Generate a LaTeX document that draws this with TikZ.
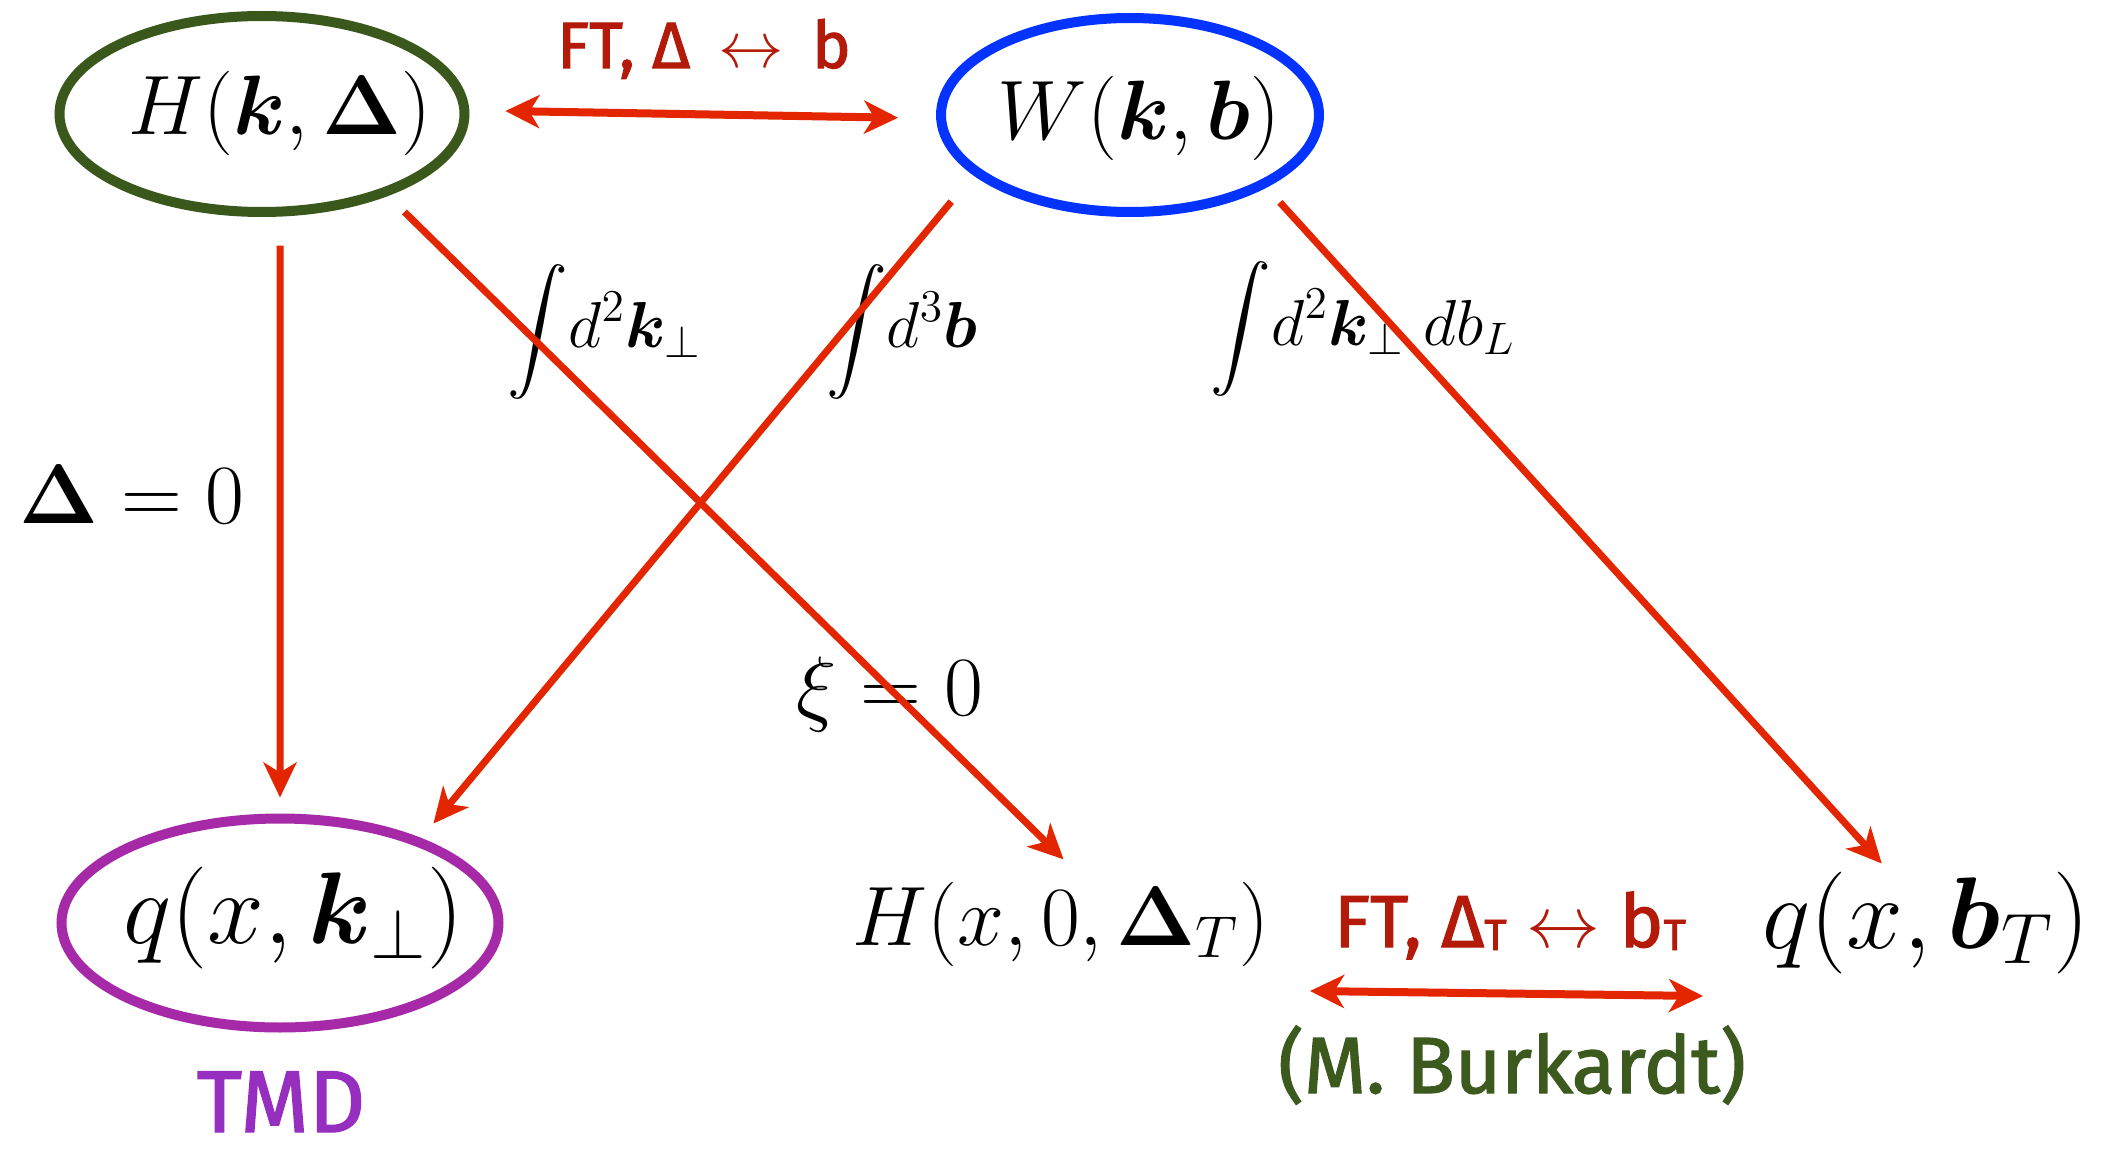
\RequirePackage{fix-cm}
\documentclass[tikz,border=0pt]{standalone}
\usepackage{amsmath,bm}
\usepackage[no-math]{fontspec}
\newfontfamily\handfont[FakeBold=1.6]{Fira Sans}
\usetikzlibrary{shapes.geometric, arrows.meta, positioning, calc}
\definecolor{GPDGreen}{RGB}{58, 88, 28}
\definecolor{GPDBlue}{RGB}{4, 51, 255}
\definecolor{GPDPurple}{RGB}{166, 42, 168}
\definecolor{GPDViolet}{RGB}{150, 46, 192}
\definecolor{GPDRed}{RGB}{227, 38, 0}
\definecolor{GPDDarkRed}{RGB}{180, 26, 10}
\definecolor{GPDOlive}{RGB}{60, 90, 30}
% text inside an oval, shifted by (#1,#2)
\newcommand\ovaltext[3]{\makebox[0pt]{\kern#1\raisebox{#2}[0pt][0pt]{$#3$}}}
\newcommand\lowT{{\fontsize{12.4}{14}\selectfont\raisebox{-0.3mm}{T}}}

\begin{document}
\begin{tikzpicture}[x=0.1mm,y=-0.1mm,
  oval/.style={ellipse, draw, line width=1mm, inner sep=0pt, text=black},
  maparrow/.style={GPDRed, line width=0.7mm, -{Stealth[length=3.5mm, width=3.3mm, inset=1mm]}},
  ftarrow/.style={GPDRed, line width=0.8mm,
    {Stealth[length=3.4mm, width=3.3mm, inset=1mm]}-{Stealth[length=3.4mm, width=3.3mm, inset=1mm]}},
  formula/.style={inner sep=0pt, anchor=base},
  measure/.style={inner sep=0pt, anchor=base, font=\fontsize{18.5}{22}\selectfont},
  hand/.style={inner sep=0pt, anchor=base},
]
  \path[use as bounding box] (0,0) rectangle (2122,1151);
  \fill[white] (0,0) rectangle (2122,1151);

  % the three ovals
  \node[oval, draw=GPDGreen, minimum width=40.5mm, minimum height=19.6mm,
        font=\fontsize{24}{28}\selectfont] (H) at (262,114)
        {\ovaltext{3.6mm}{-2.1mm}{H(\bm{k},\bm{\Delta})}};
  \node[oval, draw=GPDBlue, minimum width=37.8mm, minimum height=19.4mm,
        font=\fontsize{24}{28}\selectfont] (W) at (1130,115)
        {\ovaltext{1.8mm}{-2.5mm}{W(\bm{k},\bm{b})}};
  \node[oval, draw=GPDPurple, minimum width=43.7mm, minimum height=20.9mm,
        font=\fontsize{29}{33}\selectfont] (q) at (280,923)
        {\ovaltext{2.7mm}{-2.0mm}{q(x,\bm{k}_\perp)}};

  % plain formulas
  \node[formula, font=\fontsize{24}{28}\selectfont] (Hx0) at (1061,945) {$H(x,0,\bm{\Delta}_T)$};
  \node[formula, font=\fontsize{29}{33}\selectfont] (qb) at (1926,948) {$q(x,\bm{b}_T)$};
  \node[formula, font=\fontsize{24}{28}\selectfont] (D0) at (132,523) {$\bm{\Delta}=0$};
  \node[formula, font=\fontsize{24}{28}\selectfont] (xi0) at (890,715) {$\xi=0$};
  \node[measure] (intk) at (605,348) {$\displaystyle\int\! d^2\bm{k}_\perp$};
  \node[measure] (intb) at (902,348) {$\displaystyle\int\! d^3\bm{b}$};
  \node[measure] (intkb) at (1363,345) {$\displaystyle\int\! d^2\bm{k}_\perp\; db_L$};

  % hand-written notes
  \node[hand, GPDDarkRed, font=\handfont\fontsize{18.6}{22}\selectfont] (ftD) at (704,68)
        {FT, Δ \,$\leftrightarrow$\, b};
  \node[hand, GPDDarkRed, font=\handfont\fontsize{21}{25}\selectfont] (ftT) at (1510,947)
        {FT, Δ\lowT\ $\leftrightarrow$ b\lowT};
  \node[hand, GPDOlive, font=\handfont\fontsize{22.7}{26}\selectfont] (mb) at (1512,1093) {(M. Burkardt)};
  \node[hand, GPDViolet, font=\handfont\fontsize{25}{29}\selectfont] (tmd) at (281,1132) {TMD};

  \coordinate (ftTl) at (1310,991);
  \coordinate (ftTr) at (1703,996);

  % connectors
  \draw[ftarrow, shorten <=3.6mm, shorten >=3.8mm] (H.1) -- (W.-179);
  \draw[ftarrow] (ftTl) -- (ftTr);
  \draw[maparrow, shorten <=2.9mm, shorten >=1.6mm] (H.-80.6) -- (q.90.8);
  \draw[maparrow, shorten <=2.3mm, shorten >=3.1mm] (H.-33.8) -- (Hx0.60.8);
  \draw[maparrow, shorten <=3.45mm, shorten >=1.9mm] (W.201.5) -- (q.31.2);
  \draw[maparrow, shorten <=2mm, shorten >=1mm] (W.-28.6) -- (qb.126.5);
\end{tikzpicture}
\end{document}
